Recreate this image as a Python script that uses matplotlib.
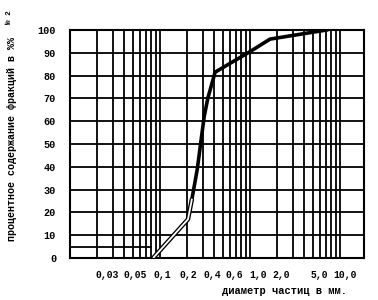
import numpy as np
import matplotlib
matplotlib.use("Agg")
import matplotlib.pyplot as plt
import matplotlib.transforms as mtransforms

plt.rcParams['font.family'] = ['Liberation Mono', 'DejaVu Sans Mono']
plt.rcParams['font.weight'] = 'bold'

# grain size curve (diameter mm, percent finer)
d_fine = [0.084, 0.205, 0.227]
p_fine = [0, 17, 26]
d_coarse = [0.227, 0.26, 0.31, 0.34, 0.41, 1.0, 1.67, 7.1]
p_coarse = [26, 39, 62, 70, 81.5, 90.5, 96, 100]

xtick_vals = [0.03, 0.05, 0.1, 0.2, 0.4, 0.6, 1.0, 2.0, 5.0, 10.0]
xtick_labels = ["0,03", "0,05", "0,1", "0,2", "0,4", "0,6", "1,0", "2,0", "5,0", "10,0"]
# typewritten labels sit a little off their lines (pixels)
xtick_shift = [-5.5, 2, 2.5, 1.5, -1.5, 4.5, 8.5, 4.5, 7, 5]
ytick_vals = list(range(0, 101, 10))

grid_x = [k * 10.0 ** e for e in (-2, -1, 0) for k in range(1, 10)] + [10.0]

fig = plt.figure(figsize=(3.78, 3.0), dpi=100)
ax = fig.add_axes([0.185, 0.14, 0.778, 0.76])
ax.set_xscale("log")
ax.set_xlim(0.01, 18.5)
ax.set_ylim(0, 100)

for gx in grid_x:
    ax.axvline(gx, color="black", lw=1.3, zorder=1)
for gy in ytick_vals:
    ax.axhline(gy, color="black", lw=1.3, zorder=1)
ax.plot([0.01, 0.08], [5, 5], color="black", lw=1.3, zorder=1)

ax.plot(d_fine, p_fine, color="black", lw=3.2, zorder=3, solid_capstyle="butt")
ax.plot(d_fine, p_fine, color="white", lw=1.3, zorder=4, solid_capstyle="butt")
ax.plot(d_coarse, p_coarse, color="black", lw=2.6, zorder=3)

ax.set_xticks(xtick_vals)
ax.set_xticklabels(xtick_labels)
ax.xaxis.set_minor_locator(matplotlib.ticker.NullLocator())
ax.set_yticks(ytick_vals)
ax.tick_params(length=0, labelsize=7, pad=9)
ax.tick_params(axis="y", labelsize=7.3, pad=10)
for lab, dx in zip(ax.get_xticklabels(), xtick_shift):
    lab.set_transform(lab.get_transform() +
                      mtransforms.ScaledTranslation(dx / 100, 0, fig.dpi_scale_trans))
for s in ax.spines.values():
    s.set_linewidth(1.5)

fig.text(0.032, 0.537, "процентное содержание фракций в %%", rotation=90,
         ha="center", va="center", fontsize=7.2)
fig.text(0.024, 0.943, "№ 2", rotation=90, ha="center", va="center", fontsize=5.5)
fig.text(0.918, 0.03, "диаметр частиц в мм.", ha="right", va="center", fontsize=7.5)

fig.savefig("out.png", dpi=100)
